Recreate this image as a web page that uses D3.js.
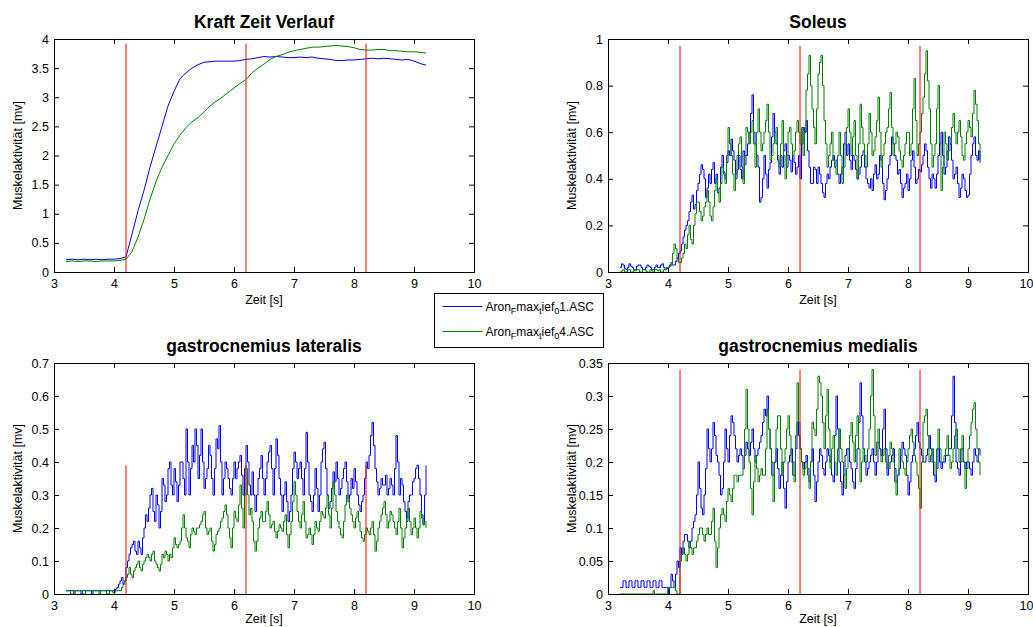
<!DOCTYPE html>
<html>
<head>
<meta charset="utf-8">
<script src="https://cdn.jsdelivr.net/npm/d3@7/dist/d3.min.js"></script>
<style>
  body { margin: 0; background: #fff; }
  svg text { font-family: "Liberation Sans", Arial, sans-serif; fill: #000; }
</style>
</head>
<body>
<div id="chart"></div>
<script>
// sample grid of the recordings (seconds)
const t0 = 3.2;
const dtKraft = 0.1;
const dtEmg = 0.025;

const seriesNames = ['Aron_Fmax_tief_01.ASC', 'Aron_Fmax_tief_04.ASC'];
const xTicks = [3, 4, 5, 6, 7, 8, 9, 10];
const markerTimes = [4.2, 6.2, 8.2];

// Kraft Zeit Verlauf
const kraftA = [0.21,0.22,0.21,0.22,0.21,0.22,0.21,0.22,
  0.22,0.23,0.26,0.65,1.05,1.4,1.8,2.15,2.5,2.85,
  3.1,3.32,3.42,3.5,3.56,3.6,3.61,3.62,3.62,3.62,
  3.62,3.63,3.65,3.66,3.68,3.7,3.69,3.7,3.69,3.68,
  3.68,3.69,3.68,3.69,3.67,3.66,3.65,3.63,3.63,3.64,
  3.64,3.65,3.66,3.67,3.66,3.67,3.66,3.65,3.64,3.65,
  3.62,3.58,3.55];
const kraftB = [0.18,0.19,0.18,0.19,0.19,0.18,0.19,0.19,
  0.19,0.2,0.22,0.35,0.6,0.9,1.25,1.55,1.8,2.0,
  2.2,2.35,2.48,2.58,2.65,2.75,2.85,2.93,3.0,3.08,
  3.16,3.24,3.3,3.42,3.5,3.57,3.65,3.7,3.73,3.77,
  3.8,3.82,3.84,3.86,3.86,3.87,3.88,3.89,3.88,3.87,
  3.85,3.82,3.81,3.81,3.82,3.82,3.8,3.8,3.79,3.78,
  3.78,3.77,3.76];
const kraftTicks = [0, 0.5, 1, 1.5, 2, 2.5, 3, 3.5, 4];

// Soleus
const soleusA = [
  0.02,0.035,0.03,0.015,0.01,0.02,0.035,0.025,0.02,0.01,0.01,0.025,0.03,0.03,0.02,0.01,0.01,0.02,0.03,0.025,
  0.02,0.01,0.01,0.02,0.03,0.02,0.02,0.03,0.035,0.02,0.01,0.015,0.02,0.03,0.04,0.03,0.03,0.045,0.06,0.08,
  0.09,0.12,0.15,0.18,0.2,0.22,0.26,0.3,0.33,0.27,0.29,0.35,0.38,0.42,0.46,0.44,0.4,0.32,0.36,0.42,
  0.38,0.44,0.47,0.38,0.42,0.34,0.36,0.45,0.5,0.43,0.4,0.47,0.52,0.5,0.57,0.52,0.48,0.4,0.44,0.5,
  0.44,0.4,0.52,0.46,0.5,0.55,0.6,0.68,0.76,0.6,0.55,0.5,0.45,0.3,0.32,0.4,0.5,0.42,0.36,0.44,
  0.47,0.58,0.68,0.6,0.55,0.48,0.42,0.5,0.45,0.52,0.55,0.45,0.5,0.48,0.43,0.5,0.47,0.42,0.45,0.5,
  0.4,0.55,0.62,0.6,0.65,0.52,0.45,0.38,0.38,0.45,0.44,0.38,0.45,0.42,0.38,0.34,0.32,0.38,0.42,0.4,
  0.45,0.48,0.5,0.45,0.48,0.42,0.38,0.42,0.45,0.55,0.6,0.5,0.55,0.48,0.44,0.5,0.48,0.44,0.4,0.42,
  0.45,0.5,0.52,0.45,0.4,0.38,0.36,0.4,0.35,0.42,0.46,0.4,0.42,0.5,0.48,0.38,0.31,0.35,0.4,0.46,
  0.5,0.58,0.55,0.5,0.48,0.42,0.44,0.38,0.32,0.36,0.38,0.42,0.35,0.4,0.48,0.52,0.45,0.38,0.4,0.44,
  0.43,0.46,0.5,0.55,0.52,0.45,0.4,0.36,0.42,0.4,0.36,0.42,0.5,0.55,0.6,0.5,0.42,0.45,0.52,0.58,
  0.55,0.48,0.4,0.42,0.45,0.38,0.32,0.36,0.42,0.4,0.35,0.32,0.33,0.42,0.5,0.55,0.58,0.5,0.48,0.52,
  0.47];
const soleusB = [
  0,0.005,0.01,0,0,0.01,0.01,0,0,0.005,0.005,0.01,0.01,0,0,0.01,0.01,0.005,0,0,
  0.01,0.005,0,0.01,0.01,0.005,0.01,0,0,0.01,0.01,0.02,0.02,0.025,0.03,0.08,0.12,0.1,0.06,0.04,
  0.04,0.06,0.08,0.12,0.1,0.16,0.2,0.14,0.12,0.2,0.25,0.3,0.3,0.26,0.22,0.24,0.28,0.3,0.35,0.3,
  0.24,0.22,0.28,0.35,0.4,0.34,0.3,0.38,0.45,0.42,0.38,0.5,0.62,0.55,0.5,0.42,0.35,0.42,0.5,0.55,
  0.58,0.45,0.38,0.5,0.62,0.6,0.55,0.6,0.65,0.55,0.45,0.6,0.7,0.6,0.52,0.55,0.6,0.65,0.72,0.6,
  0.48,0.5,0.55,0.6,0.62,0.5,0.45,0.55,0.65,0.5,0.4,0.5,0.6,0.62,0.55,0.5,0.52,0.6,0.65,0.6,
  0.55,0.62,0.5,0.6,0.78,0.85,0.93,0.8,0.7,0.62,0.55,0.7,0.85,0.9,0.93,0.8,0.65,0.55,0.45,0.5,
  0.55,0.6,0.48,0.45,0.42,0.5,0.6,0.5,0.38,0.45,0.55,0.62,0.7,0.6,0.5,0.58,0.65,0.5,0.4,0.55,
  0.72,0.62,0.55,0.5,0.45,0.55,0.68,0.6,0.5,0.52,0.58,0.65,0.75,0.6,0.45,0.5,0.55,0.6,0.62,0.7,
  0.77,0.62,0.5,0.55,0.6,0.58,0.52,0.48,0.45,0.5,0.55,0.6,0.6,0.5,0.55,0.7,0.83,0.65,0.5,0.55,
  0.6,0.68,0.75,0.85,0.95,0.82,0.7,0.55,0.45,0.5,0.55,0.7,0.8,0.55,0.35,0.45,0.6,0.55,0.48,0.52,
  0.55,0.62,0.68,0.6,0.55,0.6,0.65,0.58,0.5,0.48,0.55,0.6,0.65,0.62,0.58,0.68,0.78,0.72,0.65,0.55,
  0.48];
const soleusTicks = [0, 0.2, 0.4, 0.6, 0.8, 1];

// gastrocnemius lateralis
const gasLatA = [
  0.01,0.01,0.01,0.01,0.01,0,0.01,0.01,0.01,0.01,0,0.01,0.01,0.01,0.01,0.01,0.01,0,0.01,0.01,
  0.01,0.01,0.01,0.01,0.01,0.01,0.01,0.01,0.01,0.01,0.01,0.01,0.01,0.015,0.02,0.03,0.04,0.05,0.03,0.04,
  0.08,0.1,0.12,0.14,0.15,0.16,0.13,0.12,0.16,0.14,0.12,0.17,0.2,0.24,0.22,0.26,0.3,0.32,0.25,0.22,
  0.3,0.27,0.2,0.25,0.35,0.33,0.28,0.3,0.38,0.4,0.33,0.3,0.38,0.34,0.28,0.33,0.4,0.4,0.35,0.3,
  0.5,0.4,0.3,0.38,0.45,0.4,0.5,0.45,0.35,0.42,0.5,0.4,0.32,0.35,0.38,0.45,0.42,0.35,0.3,0.38,
  0.47,0.44,0.51,0.4,0.3,0.35,0.4,0.38,0.35,0.32,0.3,0.35,0.4,0.35,0.38,0.4,0.42,0.36,0.3,0.38,
  0.45,0.4,0.33,0.3,0.37,0.3,0.25,0.3,0.35,0.38,0.42,0.35,0.3,0.35,0.4,0.43,0.45,0.38,0.3,0.38,
  0.47,0.42,0.35,0.3,0.25,0.3,0.34,0.28,0.22,0.25,0.3,0.38,0.43,0.4,0.35,0.38,0.4,0.35,0.3,0.38,
  0.49,0.4,0.3,0.28,0.25,0.3,0.38,0.32,0.25,0.3,0.4,0.44,0.46,0.38,0.3,0.26,0.28,0.32,0.37,0.34,
  0.4,0.35,0.3,0.32,0.35,0.38,0.4,0.34,0.28,0.3,0.35,0.32,0.38,0.34,0.3,0.27,0.25,0.28,0.3,0.35,
  0.4,0.38,0.42,0.48,0.52,0.45,0.38,0.34,0.3,0.32,0.35,0.33,0.33,0.36,0.3,0.32,0.35,0.33,0.3,0.38,
  0.48,0.4,0.3,0.35,0.33,0.28,0.25,0.22,0.28,0.3,0.3,0.34,0.35,0.38,0.39,0.35,0.3,0.24,0.21,0.3,
  0.39];
const gasLatB = [
  0.01,0.01,0.01,0,0,0.01,0.01,0.01,0.01,0.01,0.01,0,0,0.01,0.01,0.01,0.01,0.01,0.01,0.01,
  0.01,0.01,0,0.01,0.01,0.01,0.01,0,0,0.01,0.01,0.005,0.005,0.01,0.01,0.01,0.01,0.02,0.03,0.04,
  0.05,0.06,0.08,0.06,0.05,0.07,0.08,0.09,0.1,0.08,0.07,0.09,0.1,0.11,0.12,0.11,0.1,0.12,0.13,0.1,
  0.09,0.08,0.07,0.09,0.12,0.11,0.13,0.12,0.1,0.12,0.11,0.14,0.17,0.15,0.14,0.15,0.16,0.2,0.24,0.2,
  0.17,0.16,0.14,0.18,0.2,0.19,0.18,0.2,0.2,0.21,0.22,0.24,0.25,0.2,0.18,0.19,0.2,0.16,0.13,0.15,
  0.18,0.19,0.2,0.22,0.23,0.25,0.27,0.24,0.2,0.17,0.14,0.2,0.25,0.23,0.22,0.27,0.33,0.26,0.2,0.3,
  0.38,0.3,0.24,0.26,0.22,0.16,0.13,0.16,0.2,0.23,0.25,0.22,0.22,0.25,0.28,0.24,0.2,0.21,0.22,0.19,
  0.17,0.19,0.21,0.2,0.19,0.22,0.24,0.18,0.14,0.18,0.22,0.28,0.34,0.3,0.25,0.22,0.2,0.24,0.28,0.22,
  0.17,0.18,0.2,0.18,0.15,0.18,0.22,0.2,0.19,0.22,0.25,0.24,0.23,0.26,0.3,0.24,0.2,0.26,0.34,0.3,
  0.25,0.22,0.2,0.18,0.17,0.22,0.27,0.3,0.29,0.26,0.24,0.22,0.2,0.23,0.25,0.22,0.19,0.17,0.16,0.18,
  0.2,0.19,0.18,0.2,0.22,0.18,0.13,0.16,0.2,0.22,0.24,0.26,0.28,0.24,0.2,0.22,0.25,0.24,0.22,0.2,
  0.18,0.22,0.26,0.2,0.14,0.17,0.2,0.23,0.26,0.22,0.18,0.2,0.23,0.2,0.17,0.2,0.25,0.23,0.21,0.22,
  0.2];
const gasLatTicks = [0, 0.1, 0.2, 0.3, 0.4, 0.5, 0.6, 0.7];

// gastrocnemius medialis
const gasMedA = [
  0.01,0.01,0.02,0.02,0.01,0.01,0.02,0.02,0.01,0.01,0.02,0.02,0.01,0.01,0.02,0.02,0.01,0.01,0.02,0.02,
  0.01,0.01,0.02,0.02,0.01,0.01,0.02,0.02,0.01,0.01,0.01,0.01,0,0.01,0.03,0.02,0.01,0.03,0.05,0.04,
  0.07,0.06,0.08,0.09,0.09,0.08,0.07,0.08,0.1,0.11,0.12,0.15,0.2,0.16,0.13,0.12,0.15,0.19,0.25,0.22,
  0.2,0.22,0.26,0.24,0.21,0.2,0.18,0.15,0.16,0.2,0.25,0.22,0.2,0.24,0.27,0.26,0.24,0.22,0.2,0.21,
  0.22,0.21,0.19,0.21,0.23,0.22,0.21,0.23,0.25,0.22,0.2,0.21,0.22,0.23,0.24,0.26,0.28,0.27,0.3,0.25,
  0.22,0.2,0.18,0.2,0.22,0.19,0.16,0.18,0.2,0.16,0.13,0.17,0.2,0.21,0.22,0.2,0.18,0.22,0.26,0.24,
  0.22,0.2,0.19,0.2,0.21,0.19,0.17,0.2,0.22,0.18,0.14,0.17,0.2,0.22,0.21,0.19,0.18,0.2,0.22,0.21,
  0.2,0.18,0.17,0.24,0.3,0.25,0.2,0.17,0.15,0.18,0.21,0.22,0.22,0.2,0.19,0.17,0.16,0.19,0.22,0.26,
  0.32,0.27,0.22,0.2,0.18,0.19,0.2,0.21,0.22,0.2,0.18,0.2,0.23,0.22,0.21,0.25,0.28,0.22,0.18,0.19,
  0.2,0.21,0.22,0.19,0.17,0.18,0.19,0.21,0.23,0.22,0.21,0.18,0.15,0.17,0.2,0.21,0.22,0.24,0.26,0.23,
  0.22,0.21,0.2,0.2,0.21,0.22,0.24,0.22,0.2,0.18,0.17,0.19,0.22,0.2,0.19,0.2,0.2,0.21,0.21,0.22,
  0.22,0.27,0.33,0.26,0.2,0.19,0.18,0.2,0.22,0.2,0.19,0.2,0.2,0.19,0.18,0.2,0.22,0.21,0.2,0.22,
  0.21];
const gasMedB = [
  0,0,0,0,0,0,0,0,0,0,0,0,0,0,0,0,0,0,0,0,
  0,0,0.005,0,0,0,0,0,0,0,0,0,0.01,0.01,0.01,0.01,0.01,0.005,0,0,
  0.05,0.06,0.07,0.06,0.05,0.06,0.08,0.07,0.06,0.07,0.07,0.08,0.09,0.1,0.1,0.09,0.08,0.09,0.1,0.09,
  0.09,0.11,0.13,0.08,0.04,0.07,0.1,0.12,0.13,0.12,0.11,0.14,0.16,0.15,0.14,0.16,0.18,0.18,0.17,0.18,
  0.18,0.18,0.19,0.25,0.31,0.25,0.2,0.16,0.12,0.17,0.21,0.19,0.17,0.18,0.19,0.18,0.18,0.22,0.28,0.25,
  0.22,0.18,0.14,0.2,0.25,0.27,0.27,0.22,0.18,0.2,0.22,0.25,0.27,0.24,0.2,0.18,0.17,0.24,0.32,0.26,
  0.22,0.2,0.18,0.19,0.2,0.18,0.16,0.2,0.26,0.25,0.24,0.28,0.33,0.32,0.3,0.26,0.22,0.27,0.31,0.25,
  0.19,0.22,0.24,0.2,0.18,0.22,0.25,0.22,0.2,0.18,0.16,0.19,0.22,0.24,0.26,0.23,0.2,0.24,0.27,0.22,
  0.17,0.2,0.22,0.21,0.2,0.22,0.25,0.3,0.34,0.27,0.21,0.23,0.25,0.22,0.2,0.21,0.22,0.2,0.19,0.21,
  0.23,0.22,0.2,0.17,0.15,0.18,0.22,0.21,0.2,0.19,0.18,0.2,0.22,0.24,0.25,0.23,0.21,0.2,0.18,0.16,
  0.13,0.2,0.26,0.27,0.28,0.24,0.2,0.21,0.22,0.2,0.18,0.22,0.25,0.22,0.2,0.2,0.21,0.22,0.24,0.21,
  0.19,0.2,0.22,0.24,0.25,0.22,0.2,0.22,0.24,0.2,0.16,0.19,0.22,0.24,0.26,0.28,0.29,0.25,0.22,0.2,
  0.18];
const gasMedTicks = [0, 0.05, 0.1, 0.15, 0.2, 0.25, 0.3, 0.35];

// height of the red marker lines in each panel
const markerTops = [3.92, 0.97, 0.39, 0.34];

const width = 1033, height = 627;
const colors = ['#0000ff', '#008000'];

const panels = [
  { title: 'Kraft Zeit Verlauf', left: 54, top: 39, h: 233, ticks: kraftTicks, a: kraftA, b: kraftB, dt: dtKraft, step: false, marker: markerTops[0] },
  { title: 'Soleus', left: 608, top: 39, h: 233, ticks: soleusTicks, a: soleusA, b: soleusB, dt: dtEmg, step: true, marker: markerTops[1] },
  { title: 'gastrocnemius lateralis', left: 54, top: 363, h: 231, ticks: gasLatTicks, a: gasLatA, b: gasLatB, dt: dtEmg, step: true, marker: markerTops[2] },
  { title: 'gastrocnemius medialis', left: 608, top: 363, h: 231, ticks: gasMedTicks, a: gasMedA, b: gasMedB, dt: dtEmg, step: true, marker: markerTops[3] }
];

const svg = d3.select('#chart').append('svg')
  .attr('width', width)
  .attr('height', height);

function drawPanel(p) {
  const w = 420;
  const x = d3.scaleLinear().domain([3, 10]).range([0, w]);
  const y = d3.scaleLinear().domain([0, p.ticks[p.ticks.length - 1]]).range([p.h, 0]);

  const g = svg.append('g').attr('transform', `translate(${p.left},${p.top})`);

  // ticks on all four sides, pointing inwards like matlab
  const xb = g.append('g').attr('transform', `translate(0,${p.h})`)
    .call(d3.axisBottom(x).tickValues(xTicks).tickSize(-5).tickPadding(7).tickFormat(d3.format('d')));
  g.append('g')
    .call(d3.axisTop(x).tickValues(xTicks).tickSize(-5).tickFormat(''));
  g.append('g')
    .call(d3.axisLeft(y).tickValues(p.ticks).tickSize(-5).tickPadding(5).tickFormat(d => String(d)));
  g.append('g').attr('transform', `translate(${w},0)`)
    .call(d3.axisRight(y).tickValues(p.ticks).tickSize(-5).tickFormat(''));

  g.selectAll('.domain').attr('stroke', '#000');
  g.selectAll('.tick line').attr('stroke', '#000');
  g.selectAll('.tick text').attr('font-size', 12.5).attr('font-family', '"Liberation Sans", Arial, sans-serif');
  // keep the last label inside the window on the right-hand panels
  if (p.left + w + 8 > width) xb.selectAll('.tick:last-of-type text').attr('dx', -2);

  const line = d3.line()
    .x((d, i) => x(t0 + i * p.dt))
    .y(d => y(d))
    .curve(p.step ? d3.curveStepAfter : d3.curveLinear);

  const clip = 'clip' + p.left + '_' + p.top;
  g.append('clipPath').attr('id', clip).append('rect').attr('width', w).attr('height', p.h);
  const plot = g.append('g').attr('clip-path', `url(#${clip})`);

  [p.a, p.b].forEach((vals, k) => {
    plot.append('path')
      .datum(vals)
      .attr('fill', 'none')
      .attr('stroke', colors[k])
      .attr('stroke-width', 1)
      .attr('d', line);
  });

  plot.selectAll('.marker')
    .data(markerTimes)
    .enter().append('line')
    .attr('x1', d => x(d)).attr('x2', d => x(d))
    .attr('y1', y(0)).attr('y2', y(p.marker))
    .attr('stroke', '#ff0000')
    .attr('stroke-width', 1);

  g.append('text')
    .attr('x', w / 2).attr('y', -11.5)
    .attr('text-anchor', 'middle')
    .attr('font-size', 17.5).attr('font-weight', 'bold')
    .text(p.title);

  // bottom row sits at the window edge, so lift its label a little
  const labelY = Math.min(p.h + 32, height - p.top - 4);
  g.append('text')
    .attr('x', w / 2).attr('y', labelY)
    .attr('text-anchor', 'middle')
    .attr('font-size', 12.5)
    .text('Zeit [s]');

  g.append('text')
    .attr('transform', `translate(-32.5,${p.h / 2}) rotate(-90)`)
    .attr('text-anchor', 'middle')
    .attr('font-size', 12.5)
    .text('Muskelaktivität [mv]');
}

panels.forEach(drawPanel);

// legend
const leg = svg.append('g').attr('transform', 'translate(434.5,293.5)');
leg.append('rect').attr('width', 169).attr('height', 54)
  .attr('fill', '#fff').attr('stroke', '#000');

seriesNames.forEach((name, i) => {
  const row = leg.append('g').attr('transform', `translate(0,${13 + i * 25})`);
  row.append('line').attr('x1', 8).attr('x2', 48).attr('y1', 0).attr('y2', 0)
    .attr('stroke', colors[i]);
  // name written with matlab-style subscripts: Aron_Fmax_tief_01.ASC
  const parts = name.match(/^(Aron)_(F)(max)_(t)(ief)_(0)(.*)$/);
  const txt = row.append('text').attr('x', 51).attr('y', 4).attr('font-size', 12);
  parts.slice(1).forEach((s, j) => {
    const sub = j === 1 || j === 3 || j === 5;
    txt.append('tspan')
      .attr('font-size', sub ? 9 : 12)
      .attr('dy', sub ? 3 : (j > 0 ? -3 : 0))
      .text(s);
  });
});
</script>
</body>
</html>
